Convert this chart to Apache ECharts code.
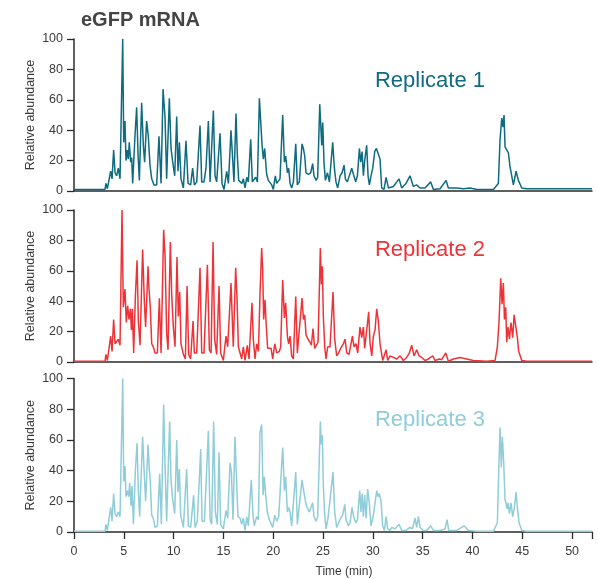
<!DOCTYPE html>
<html>
<head>
<meta charset="utf-8">
<script src="https://cdn.jsdelivr.net/npm/echarts@6/dist/echarts.min.js"></script>
<style>
  html, body { margin: 0; padding: 0; background: #fff; }
  #chart { width: 598px; height: 579px; }
</style>
</head>
<body>
<div id="chart"></div>
<script>
// Chromatogram traces: [retention time (min), relative abundance (%)]
const replicate1 = [
  [0,1],[3.11,1],[3.21,5],[3.35,1.5],[3.55,1.5],[3.68,13],[3.82,8],[3.98,27],[4.12,12],[4.28,10],[4.45,15],[4.62,8],
  [4.89,100],[4.99,32],[5.12,46],[5.22,20],[5.36,27],[5.45,21],[5.55,32],[5.69,19],[5.79,22],[5.89,5],[6.12,36],[6.29,55],
  [6.43,24],[6.56,7],[6.79,58],[6.96,30],[7.09,19],[7.29,46],[7.46,36],[7.63,17],[7.8,8],[8.03,4],[8.3,4],[8.53,36],
  [8.74,5],[8.94,67],[9.14,48],[9.3,8],[9.57,61],[9.74,28],[9.91,19],[10.11,10],[10.31,49],[10.44,13],[10.58,32],[10.74,8],
  [10.98,2],[11.24,33],[11.45,5],[11.71,4],[11.91,15],[12.08,4],[12.32,6],[12.65,43],[12.82,6],[13.05,6],[13.25,15],[13.49,46],
  [13.66,6],[13.82,6],[13.99,53],[14.16,10],[14.32,6],[14.66,38],[14.86,5],[15.06,1],[15.33,13],[15.5,5],[15.76,40],[15.9,39],
  [16.06,6],[16.26,51],[16.4,23],[16.53,7],[16.7,8],[16.85,5],[17.0,8],[17.17,2],[17.34,9],[17.5,6],[17.74,34],[17.9,6],
  [18.07,6],[18.24,9],[18.41,6],[18.61,61],[18.74,60],[18.88,30],[19.01,21],[19.14,28],[19.34,11],[19.51,7],[19.68,6],[19.85,4],
  [20.01,1],[20.21,10],[20.35,5],[20.68,8],[20.95,50],[21.12,19],[21.25,23],[21.42,12],[21.55,15],[21.69,5],[21.85,2],[22.02,6],
  [22.26,31],[22.42,4],[22.62,6],[22.89,31],[23.03,28],[23.16,23],[23.29,12],[23.53,11],[23.76,12],[23.96,18],[24.09,10],[24.3,7],
  [24.46,9],[24.67,57],[24.77,56],[24.87,30],[24.97,45],[25.1,18],[25.24,7],[25.44,12],[25.64,6],[25.97,32],[26.14,15],[26.3,6],
  [26.47,2],[26.71,10],[26.91,12],[27.11,17],[27.24,8],[27.44,6],[27.64,7],[27.88,15],[28.05,11],[28.28,6],[28.45,10],[28.65,28],
  [28.78,19],[28.92,26],[29.05,10],[29.18,20],[29.38,30],[29.52,10],[29.65,4],[29.82,10],[29.99,15],[30.19,26],[30.36,28],[30.55,29],
  [30.72,21],[30.89,2],[31.12,1],[31.33,9],[31.56,2],[32.06,3],[32.63,8],[32.9,2],[33.33,5],[33.73,10],[34.07,3],[34.4,4],
  [34.74,2],[35.24,2],[35.81,6],[36.08,1],[36.75,1.5],[37.35,7],[37.58,2],[38.42,2],[39.09,1.5],[39.76,2],[40.43,1],[42.1,1],
  [42.6,5],[42.77,34],[42.94,48],[43.07,42],[43.17,50],[43.27,29],[43.44,27],[43.61,25],[43.77,16],[44.11,4],[44.38,13],[44.61,7],
  [44.95,2],[45.45,1.5],[52,1.5]
];

const replicate2 = [
  [0,0.5],[3.11,0.5],[3.21,5],[3.35,1],[3.51,1],[3.68,17],[3.82,7],[3.98,28],[4.12,12],[4.28,11],[4.45,15],[4.62,11],
  [4.82,100],[4.95,36],[5.12,48],[5.25,26],[5.39,37],[5.52,28],[5.66,35],[5.76,21],[5.86,35],[5.99,6],[6.16,43],[6.33,67],
  [6.46,27],[6.63,11],[6.89,74],[7.06,40],[7.19,23],[7.43,63],[7.53,48],[7.66,36],[7.8,12],[7.96,10],[8.13,6],[8.37,6],
  [8.57,42],[8.74,6],[9.0,87],[9.14,70],[9.3,19],[9.44,8],[9.67,79],[9.81,44],[9.97,23],[10.14,10],[10.34,69],[10.47,30],
  [10.61,46],[10.74,12],[10.98,5],[11.18,2],[11.35,50],[11.51,5],[11.71,2],[11.95,27],[12.08,6],[12.32,6],[12.65,62],[12.82,6],
  [13.05,6],[13.39,64],[13.59,8],[13.76,6],[13.96,79],[14.12,15],[14.32,5],[14.56,50],[14.72,6],[14.99,1],[15.26,17],[15.43,10],
  [15.76,52],[15.99,10],[16.23,62],[16.36,43],[16.5,10],[16.67,9],[16.83,2],[17.0,10],[17.17,1],[17.4,11],[17.57,2],[17.87,39],
  [18.0,15],[18.17,2],[18.34,12],[18.51,7],[18.67,44],[18.84,75],[18.94,61],[19.04,28],[19.18,41],[19.28,26],[19.44,9],[19.61,10],
  [19.78,9],[19.95,2],[20.15,12],[20.35,6],[20.62,7],[20.75,10],[20.95,54],[21.12,29],[21.25,39],[21.42,17],[21.55,12],[21.69,17],
  [21.85,4],[22.02,2],[22.26,43],[22.42,6],[22.62,5],[22.89,42],[23.03,28],[23.16,31],[23.29,18],[23.49,15],[23.69,13],[23.83,11],
  [23.99,22],[24.16,9],[24.3,8],[24.5,13],[24.73,75],[24.83,51],[24.93,63],[25.03,30],[25.17,10],[25.3,2],[25.47,10],[25.7,10],
  [26.0,46],[26.17,15],[26.37,4],[26.57,6],[26.77,9],[27.04,12],[27.21,15],[27.38,6],[27.61,5],[27.95,17],[28.11,10],[28.31,12],
  [28.48,6],[28.71,23],[28.88,16],[29.05,23],[29.18,9],[29.42,23],[29.58,33],[29.72,12],[29.89,4],[30.05,17],[30.22,21],[30.39,35],
  [30.55,27],[30.72,12],[30.99,1],[31.12,0],[31.33,8],[31.49,1],[31.73,4],[31.89,3],[32.4,2],[32.73,4],[33.06,1],[33.4,3],
  [33.67,6],[33.9,11],[34.14,4],[34.4,8],[34.64,4],[34.91,3],[35.24,1],[35.57,2],[36.01,4],[36.24,1],[36.68,2],[36.91,1.5],
  [37.32,6],[37.58,0.5],[38.09,2],[38.75,3],[39.42,2],[40.09,1],[41.43,0.5],[42.27,1],[42.5,10],[42.67,27],[42.84,55],[42.97,38],
  [43.1,52],[43.21,28],[43.34,36],[43.44,13],[43.57,23],[43.71,15],[43.87,26],[44.04,16],[44.18,31],[44.38,32],[44.51,16],[44.64,7],
  [44.95,1],[45.45,0.5],[52,0.5]
];

const replicate3 = [
  [0,0.5],[3.11,0.5],[3.21,5],[3.35,1],[3.51,1],[3.68,16],[3.82,7],[3.98,25],[4.12,12],[4.28,10],[4.45,13],[4.62,10],
  [4.89,100],[4.99,33],[5.12,43],[5.22,23],[5.36,27],[5.49,23],[5.59,32],[5.72,17],[5.82,30],[5.96,5],[6.16,40],[6.33,58],
  [6.46,27],[6.59,10],[6.89,62],[7.06,37],[7.19,20],[7.43,57],[7.56,41],[7.66,33],[7.8,11],[7.96,9],[8.13,3],[8.37,4],
  [8.6,38],[8.77,5],[9.0,83],[9.14,43],[9.3,7],[9.6,72],[9.74,34],[9.91,21],[10.11,12],[10.31,60],[10.44,26],[10.58,41],
  [10.71,11],[10.98,3],[11.14,2],[11.31,41],[11.48,4],[11.71,3],[12.01,24],[12.15,3],[12.38,7],[12.72,54],[12.85,7],[13.09,7],
  [13.49,66],[13.66,8],[13.82,5],[14.02,72],[14.19,13],[14.39,5],[14.56,52],[14.72,5],[14.99,2],[15.26,14],[15.43,9],[15.66,45],
  [15.8,39],[15.96,8],[16.16,62],[16.3,37],[16.46,10],[16.67,9],[16.83,5],[17.0,9],[17.17,1],[17.34,10],[17.5,4],[17.8,34],
  [17.97,11],[18.1,4],[18.34,10],[18.51,8],[18.67,65],[18.84,70],[18.98,24],[19.11,36],[19.24,24],[19.41,13],[19.61,8],[19.78,8],
  [19.95,3],[20.15,11],[20.35,7],[20.55,10],[20.75,11],[20.95,55],[21.12,27],[21.25,36],[21.42,13],[21.55,16],[21.69,13],[21.85,4],
  [22.02,3],[22.26,39],[22.42,5],[22.62,5],[22.89,34],[23.03,28],[23.16,28],[23.29,18],[23.46,15],[23.63,13],[23.76,12],[23.96,19],
  [24.09,10],[24.3,7],[24.46,10],[24.73,72],[24.83,57],[24.93,63],[25.03,30],[25.17,11],[25.3,2],[25.5,9],[25.7,9],[26.0,39],
  [26.17,13],[26.37,3],[26.57,6],[26.77,9],[26.97,11],[27.18,18],[27.31,8],[27.54,4],[27.71,6],[27.91,16],[28.08,10],[28.28,6],
  [28.45,8],[28.68,27],[28.81,13],[28.92,25],[29.05,10],[29.18,24],[29.32,9],[29.48,28],[29.65,18],[29.82,4],[30.05,11],[30.22,12],
  [30.39,27],[30.52,23],[30.65,25],[30.82,20],[30.99,4],[31.16,1],[31.33,10],[31.49,2],[31.73,1],[31.89,3],[32.23,2],[32.63,5],
  [32.9,1],[33.33,1],[33.73,3],[33.97,2],[34.24,9],[34.4,3],[34.57,10],[34.74,3],[35.07,1],[35.41,1],[35.81,4],[36.08,1],
  [36.75,1],[37.25,2],[37.45,8],[37.62,1],[38.42,1],[39.16,4],[39.59,1],[40.43,0.5],[42.1,0.5],[42.5,6],[42.64,40],[42.77,68],
  [42.9,42],[43.0,62],[43.14,45],[43.27,21],[43.37,19],[43.47,15],[43.57,19],[43.71,12],[43.87,19],[44.04,10],[44.21,16],[44.38,26],
  [44.51,16],[44.68,6],[44.95,1],[45.45,0.5],[52,0.5]
];

const replicateNames = ['Replicate 1', 'Replicate 2', 'Replicate 3'];
const replicateColors = ['#0f6b80', '#ee3338', '#8fcdd9'];
const traces = [replicate1, replicate2, replicate3];

const timeRange = [0, 52];
const timeStep = 5;
const abundanceRange = [0, 100];
const abundanceStep = 20;

// Panel geometry (px)
const panels = [
  { top: 39, height: 152 },
  { top: 210, height: 152 },
  { top: 378.5, height: 154 }
];
const labelCenters = [81, 250, 420];

const FONT = '"Liberation Sans", Arial, Helvetica, sans-serif';
const axisColor = '#2b2b2b';
const textColor = '#3a3a3a';

const chart = echarts.init(document.getElementById('chart'), null, { renderer: 'canvas' });

const grids = panels.map(p => ({ left: 74, right: 6, top: p.top, height: p.height }));

const xAxes = panels.map((p, i) => {
  const last = i === panels.length - 1;
  return {
    type: 'value', gridIndex: i,
    min: timeRange[0], max: timeRange[1], interval: timeStep,
    splitLine: { show: false },
    axisLine: { show: true, onZero: false, lineStyle: { color: axisColor, width: 1.5 } },
    axisTick: { show: last, length: 7, lineStyle: { color: axisColor, width: 1.3 } },
    axisLabel: {
      show: last, margin: 13, color: textColor, fontFamily: FONT, fontSize: 12.5,
      formatter: v => (v % timeStep === 0 ? String(v) : '')
    },
    name: last ? 'Time (min)' : '',
    nameLocation: 'middle', nameGap: 34, nameMoveOverlap: false,
    nameTextStyle: { color: textColor, fontFamily: FONT, fontSize: 12, padding: [0, 0, 0, 22] }
  };
});

const yAxes = panels.map((p, i) => ({
  type: 'value', gridIndex: i,
  min: abundanceRange[0], max: abundanceRange[1], interval: abundanceStep,
  splitLine: { show: false },
  axisLine: { show: true, lineStyle: { color: axisColor, width: 1.5 } },
  axisTick: { show: true, length: 7, lineStyle: { color: axisColor, width: 1.3 } },
  axisLabel: { margin: 11, color: textColor, fontFamily: FONT, fontSize: 12.5 },
  name: 'Relative abundance',
  nameLocation: 'middle', nameGap: 37, nameMoveOverlap: false,
  nameTextStyle: { color: textColor, fontFamily: FONT, fontSize: 12.5 }
}));

const series = traces.map((data, i) => ({
  type: 'line', name: replicateNames[i],
  xAxisIndex: i, yAxisIndex: i,
  data: data,
  showSymbol: false, symbol: 'none',
  lineStyle: { color: replicateColors[i], width: 1.5 },
  z: 3
}));

const labels = replicateNames.map((name, i) => ({
  type: 'text',
  style: {
    x: 430, y: labelCenters[i],
    text: name, align: 'center', verticalAlign: 'middle',
    fill: replicateColors[i], font: '22px ' + FONT
  }
}));

chart.setOption({
  animation: false,
  backgroundColor: '#ffffff',
  title: {
    text: 'eGFP mRNA', left: 76, top: 5,
    textStyle: { color: '#444444', fontFamily: FONT, fontSize: 20, fontWeight: 'bold' }
  },
  grid: grids,
  xAxis: xAxes,
  yAxis: yAxes,
  series: series,
  graphic: labels
});
</script>
</body>
</html>
